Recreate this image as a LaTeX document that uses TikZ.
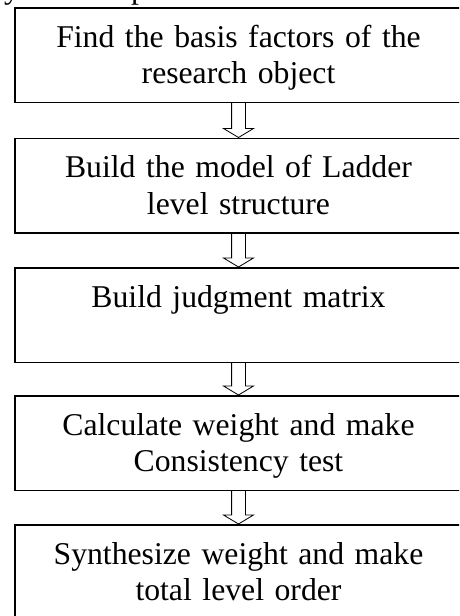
\documentclass[tikz,border=0pt]{standalone}
\usepackage{fontspec}
\setmainfont{Liberation Serif}
\usetikzlibrary{calc}

\tikzset{
  stepbox/.style={draw, line width=1.6pt, minimum width=447pt, minimum height=94.5pt,
    inner sep=0pt, text width=440pt, align=center,
    text height=39.5pt, text depth=55pt, anchor=north,
    font=\fontsize{31.7}{36.5}\selectfont},
  % hollow block arrow running from the bottom of one box to the top of the next
  hollowarrow/.style={line width=0.8pt, to path={
    ($(\tikztostart)+(-6.9,0)$) -- ($(\tikztotarget)+(-6.9,-9)$) --
    ($(\tikztotarget)+(-15,-9)$) -- (\tikztotarget) --
    ($(\tikztotarget)+(15,-9)$) -- ($(\tikztotarget)+(6.9,-9)$) --
    ($(\tikztostart)+(6.9,0)$)}},
  fragment/.style={anchor=base west, inner sep=0pt, font=\fontsize{31.7}{36.5}\selectfont}
}

\begin{document}
\begin{tikzpicture}[x=1pt, y=-1pt]
  \useasboundingbox (0,0) rectangle (459,616);
  \begin{scope}
    \clip (0,0) rectangle (459,616);

    % tail of the preceding text line
    \node[fragment] (fy) at (4,-2) {y};
    \node[fragment] (fp) at (131,-2) {p};

    \node[stepbox] (s1) at (238.5,7)   {Find the basis factors of the\\research object};
    \node[stepbox] (s2) at (238.5,137.5) {Build the model of Ladder\\level structure};
    \node[stepbox] (s3) at (238.5,267) {Build judgment matrix};
    \node[stepbox] (s4) at (238.5,395) {Calculate weight and make\\Consistency test};
    \node[stepbox] (s5) at (238.5,524) {Synthesize weight and make\\total level order};

    \draw[hollowarrow] (s1.south) to (s2.north);
    \draw[hollowarrow] (s2.south) to (s3.north);
    \draw[hollowarrow] (s3.south) to (s4.north);
    \draw[hollowarrow] (s4.south) to (s5.north);
  \end{scope}
\end{tikzpicture}
\end{document}
